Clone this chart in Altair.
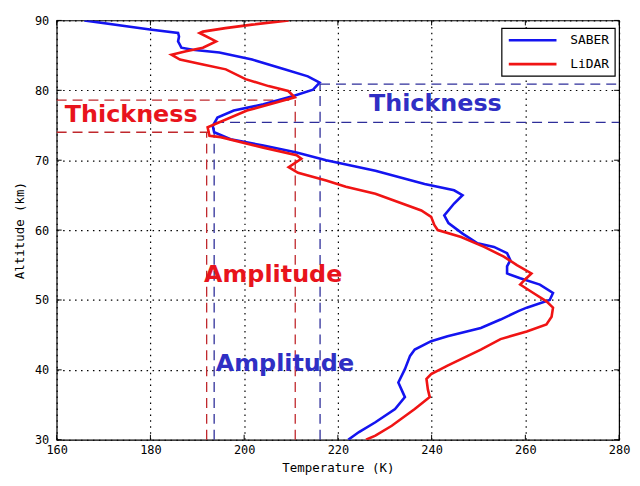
import altair as alt
import pandas as pd

# ---- data ----
saber_alt = [90.0, 88.7, 88.2, 87.7, 87.0, 86.1, 85.8, 85.4, 84.4, 83.0, 82.0, 81.1, 80.1, 79.2, 78.0,
             77.1, 76.1, 74.9, 74.0, 73.0, 72.1, 71.1, 70.0, 68.5, 66.6, 65.7, 65.0, 63.8, 62.1, 61.0,
             59.5, 58.1, 57.6, 56.7, 55.7, 54.8, 53.8, 53.1, 52.2, 51.0, 50.0, 48.9, 48.4, 47.2, 46.0,
             44.8, 44.1, 42.9, 42.0, 40.1, 38.2, 36.1, 34.4, 32.5, 31.1, 30.0]
saber_temp = [165.9, 179.9, 185.9, 186.1, 185.9, 186.6, 189.0, 194.7, 201.7, 208.6, 213.6, 216.1, 214.7, 210.5, 204.1,
              197.8, 194.3, 193.3, 193.6, 197.1, 204.1, 211.2, 217.5, 228.0, 238.5, 244.8, 246.6, 244.8, 242.7, 243.6,
              246.6, 249.8, 253.3, 256.1, 256.8, 256.1, 256.1, 258.9, 263.1, 265.9, 265.2, 260.3, 258.5, 254.7, 250.5,
              243.4, 239.9, 236.4, 235.4, 234.3, 232.9, 234.3, 232.2, 228.0, 224.5, 222.2]

lidar_alt = [90.0, 89.4, 88.9, 88.4, 88.2, 87.0, 86.1, 85.6, 85.1, 84.4, 83.7, 83.0, 81.6, 80.6, 79.9,
             79.0, 77.1, 74.7, 73.5, 73.3, 71.8, 70.7, 70.2, 69.0, 68.2, 67.1, 66.2, 65.2, 62.8, 61.9,
             60.7, 60.0, 59.0, 57.6, 56.2, 55.0, 53.8, 52.9, 52.2, 51.0, 49.8, 48.9, 47.6, 46.5, 45.5,
             44.4, 42.9, 40.6, 39.4, 38.7, 37.2, 36.1, 34.4, 32.0, 30.6, 30.0]
lidar_temp = [209.5, 201.7, 196.0, 191.2, 190.5, 194.0, 191.2, 187.6, 184.5, 186.3, 191.2, 196.1, 200.3, 205.2, 209.4,
              210.8, 200.6, 192.2, 192.6, 195.0, 204.1, 211.2, 212.2, 209.5, 211.5, 217.5, 221.7, 228.0, 237.8, 239.9,
              240.6, 241.3, 246.3, 251.2, 255.4, 258.2, 261.3, 259.9, 258.9, 261.7, 264.5, 265.9, 265.6, 264.5, 260.3,
              254.7, 250.5, 243.4, 239.9, 238.9, 239.2, 239.6, 236.4, 231.5, 228.0, 226.0]

series_names = ["SABER", "LiDAR"]
series_colors = ["#1414f0", "#f01414"]

# dashed guide segments: (x, x2, y, y2, group)
guide_x = [160.0, 160.0, 192.0, 210.9, 216.2, 193.6, 193.6, 216.2]
guide_x2 = [210.8, 192.8, 192.0, 210.9, 280.0, 280.0, 193.6, 216.2]
guide_y = [78.6, 74.0, 30.0, 30.0, 80.9, 75.4, 30.0, 30.0]
guide_y2 = [78.6, 74.0, 74.0, 78.6, 80.9, 75.4, 75.4, 80.9]
guide_grp = ["LiDAR"] * 4 + ["SABER"] * 4

label_text = ["Thickness", "Thickness", "Amplitude", "Amplitude"]
label_x = [175.9, 240.8, 206.2, 208.7]
label_y = [75.4, 77.1, 52.6, 39.9]
label_grp = ["LiDAR", "SABER", "LiDAR", "SABER"]

x_ticks = [160, 180, 200, 220, 240, 260, 280]
y_ticks = [30, 40, 50, 60, 70, 80, 90]

W, H = 566, 422

rows = []
for i, (a, t) in enumerate(zip(saber_alt, saber_temp)):
    rows.append({"series": "SABER", "alt": a, "temp": t, "idx": i})
for i, (a, t) in enumerate(zip(lidar_alt, lidar_temp)):
    rows.append({"series": "LiDAR", "alt": a, "temp": t, "idx": i})
df = pd.DataFrame(rows)

guides = pd.DataFrame({"x": guide_x, "x2": guide_x2, "y": guide_y, "y2": guide_y2, "g": guide_grp})
labels = pd.DataFrame({"text": label_text, "x": label_x, "y": label_y, "g": label_grp})

xscale = alt.Scale(domain=[160, 280], nice=False, zero=False)
yscale = alt.Scale(domain=[30, 90], nice=False, zero=False)

xaxis = alt.Axis(title="Temperature (K)", values=x_ticks, grid=True, gridDash=[1.5, 4.5], gridColor="black",
                 gridOpacity=1, gridWidth=1.2, ticks=False, domain=False, labelPadding=5, titlePadding=6,
                 labelFlush=False)
yaxis = alt.Axis(title="Altitude (km)", values=y_ticks, grid=True, gridDash=[1.5, 4.5], gridColor="black",
                 gridOpacity=1, gridWidth=1.2, ticks=False, domain=False, labelPadding=8, titlePadding=8,
                 labelFlush=False)

base_axes = alt.Chart(pd.DataFrame({"t": [0]})).mark_point(opacity=0).encode(
    x=alt.X("t:Q", scale=xscale, axis=xaxis),
    y=alt.Y("t:Q", scale=yscale, axis=yaxis),
)

guide_layer = alt.Chart(guides).mark_rule(strokeDash=[10, 6], strokeWidth=1.3).encode(
    x=alt.X("x:Q", scale=xscale),
    x2="x2:Q",
    y=alt.Y("y:Q", scale=yscale),
    y2="y2:Q",
    color=alt.Color("g:N", scale=alt.Scale(domain=series_names, range=["#2e2e9a", "#c0282d"]), legend=None),
)

lines = alt.Chart(df).mark_line(strokeWidth=2.6, clip=True).encode(
    x=alt.X("temp:Q", scale=xscale),
    y=alt.Y("alt:Q", scale=yscale),
    order="idx:Q",
    detail="series:N",
    stroke=alt.Stroke("series:N", scale=alt.Scale(domain=series_names, range=series_colors), legend=None),
)

text_layer = alt.Chart(labels).mark_text(font="DejaVu Sans", fontWeight="bold", fontSize=24,
                                         align="center", baseline="alphabetic").encode(
    x=alt.X("x:Q", scale=xscale),
    y=alt.Y("y:Q", scale=yscale),
    text="text:N",
    fill=alt.Fill("g:N", scale=alt.Scale(domain=series_names, range=["#2f2fc4", "#e8141c"]), legend=None),
)

xt = pd.DataFrame({"t": x_ticks})
yt = pd.DataFrame({"t": y_ticks})
tick_layers = [
    alt.Chart(xt).mark_rule(color="black").encode(x=alt.X("t:Q", scale=xscale), y=alt.value(H), y2=alt.value(H - 5)),
    alt.Chart(xt).mark_rule(color="black").encode(x=alt.X("t:Q", scale=xscale), y=alt.value(0), y2=alt.value(5)),
    alt.Chart(yt).mark_rule(color="black").encode(y=alt.Y("t:Q", scale=yscale), x=alt.value(0), x2=alt.value(5)),
    alt.Chart(yt).mark_rule(color="black").encode(y=alt.Y("t:Q", scale=yscale), x=alt.value(W), x2=alt.value(W - 5)),
]

# legend box
lg = pd.DataFrame({"s": [0]})
legend_box = alt.Chart(lg).mark_rect(fill="white", stroke="black", strokeWidth=1.2).encode(
    x=alt.value(448), x2=alt.value(562), y=alt.value(8), y2=alt.value(56))
legend_layers = [legend_box]
for i, name in enumerate(series_names):
    d = pd.DataFrame({"s": [name]})
    legend_layers.append(alt.Chart(d).mark_rule(strokeWidth=2.6, color=series_colors[i]).encode(
        x=alt.value(455), x2=alt.value(503), y=alt.value(20 + 24 * i)))
    legend_layers.append(alt.Chart(d).mark_text(font="DejaVu Sans Mono", fontSize=13, align="right",
                                                baseline="middle", color="black").encode(
        x=alt.value(556), y=alt.value(20 + 24 * i), text="s:N"))

chart = alt.layer(base_axes, guide_layer, lines, text_layer, *tick_layers, *legend_layers).properties(
    width=W, height=H,
    background="white",
    autosize=alt.AutoSizeParams(type="none"),
    padding={"left": 49, "top": 11, "right": 13, "bottom": 40},
).configure_view(stroke="black", strokeWidth=1.2).configure_axis(
    labelFont="DejaVu Sans Mono", labelFontSize=12, labelColor="black",
    titleFont="DejaVu Sans Mono", titleFontSize=12.5, titleFontWeight="normal", titleColor="black",
)

chart.save("out.html", embed_options={"renderer": "svg", "actions": False})
